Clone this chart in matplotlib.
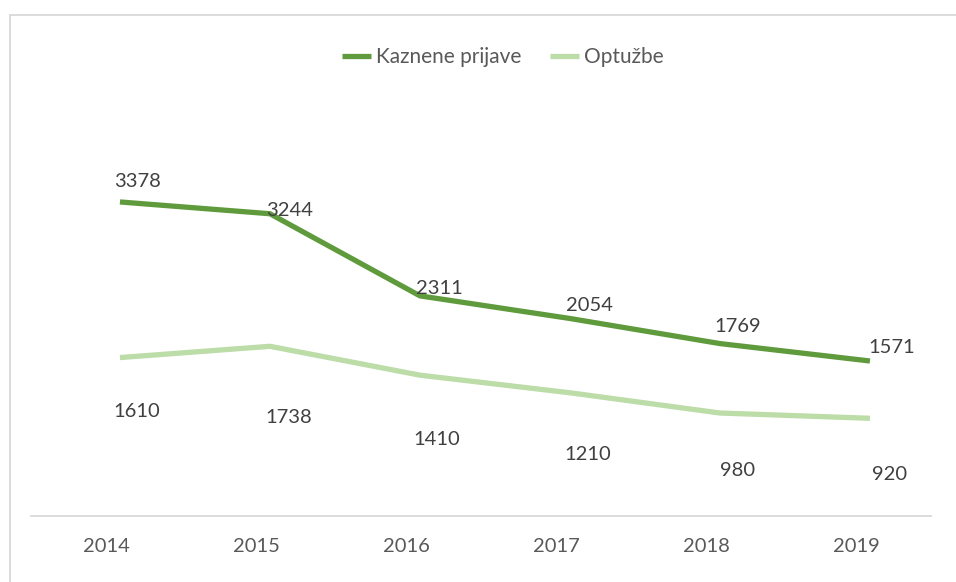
import matplotlib.pyplot as plt
import numpy as np

# Data
years = ['2014', '2015', '2016', '2017', '2018', '2019']
kaznene_prijave = [3378, 3244, 2311, 2054, 1769, 1571]
optuzbe = [1610, 1738, 1410, 1210, 980, 920]

# label offsets in pixels (dx, dy) relative to each point
dark_offsets = [(18, 20), (20, 3), (19, 7), (20, 13), (18, 17), (22, 14)]
light_offsets = [(17, -54), (19, -71), (17, -64), (18, -62), (18, -57), (20, -56)]

plt.rcParams['font.family'] = ['Lato', 'DejaVu Sans']

fig = plt.figure(figsize=(9.56, 5.82), dpi=100)
ax = fig.add_axes([31 / 956, 1 - 516 / 582, 900 / 956, (516 - 40) / 582])

dark = '#5f9b3c'
light = '#bcdca8'
x = np.arange(len(years)) + 0.093

ax.plot(x, kaznene_prijave, color=dark, lw=3.8, label='Kaznene prijave', solid_capstyle='butt')
ax.plot(x, optuzbe, color=light, lw=3.8, label='Optužbe', solid_capstyle='butt')

for xi, v, (dx, dy) in zip(x, kaznene_prijave, dark_offsets):
    ax.annotate(str(v), (xi, v), xytext=(dx * 0.72, dy * 0.72), textcoords='offset points',
                ha='center', va='center', fontsize=14.5, color='#404040')
for xi, v, (dx, dy) in zip(x, optuzbe, light_offsets):
    ax.annotate(str(v), (xi, v), xytext=(dx * 0.72, dy * 0.72), textcoords='offset points',
                ha='center', va='center', fontsize=14.5, color='#404040')

ax.set_xlim(-0.5, 5.5)
ax.set_ylim(-190, 5218)
ax.set_xticks(np.arange(len(years)))
ax.set_xticklabels(years, fontsize=14.5, color='#595959')
ax.tick_params(axis='x', length=0, pad=16)
ax.set_yticks([])
for side in ['top', 'right', 'left']:
    ax.spines[side].set_visible(False)
ax.spines['bottom'].set_color('#d9d9d9')
ax.spines['bottom'].set_linewidth(1.3)

fig.legend(loc='center', bbox_to_anchor=(503 / 956, 1 - 57 / 582), ncol=2, frameon=False,
           fontsize=15, labelcolor='#595959', handlelength=1.4, handletextpad=0.25,
           columnspacing=1.35)

# outer border
fig.add_artist(plt.Line2D([10 / 956, 1], [1 - 15 / 582, 1 - 15 / 582], color='#d9d9d9', lw=1.3))
fig.add_artist(plt.Line2D([10 / 956, 10 / 956], [0, 1 - 15 / 582], color='#d9d9d9', lw=1.3))

fig.savefig('out.png', dpi=100)
